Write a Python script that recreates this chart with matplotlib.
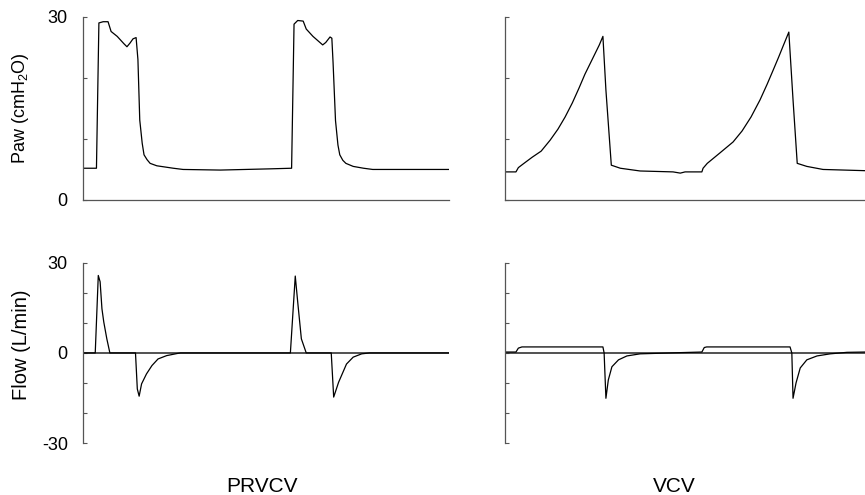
import numpy as np
import matplotlib
matplotlib.use("Agg")
import matplotlib.pyplot as plt

plt.rcParams["font.family"] = ["Liberation Sans", "DejaVu Sans"]
plt.rcParams["mathtext.default"] = "regular"

# --- PRVCV: airway pressure (cmH2O) vs time (s) ---
prvcv_paw_t = [0.00, 0.22, 0.26, 0.33, 0.41, 0.46, 0.56, 0.67, 0.72, 0.77, 0.82, 0.87,
               0.90, 0.93, 0.97, 1.00, 1.05, 1.10, 1.21, 1.48, 1.64, 2.25, 3.07, 3.42,
               3.46, 3.52, 3.61, 3.66, 3.77, 3.93, 3.98, 4.05, 4.08, 4.10, 4.14, 4.18,
               4.21, 4.26, 4.31, 4.43, 4.60, 4.75, 6.00]
prvcv_paw = [5.2, 5.2, 29.0, 29.2, 29.2, 27.6, 26.8, 25.6, 25.1, 25.7, 26.4, 26.6,
             23.0, 13.1, 9.3, 7.4, 6.6, 6.0, 5.6, 5.2, 5.0, 4.9, 5.1, 5.2,
             28.8, 29.4, 29.3, 28.0, 26.8, 25.4, 25.8, 26.7, 26.5, 22.5, 13.0, 9.0,
             7.4, 6.5, 6.0, 5.5, 5.2, 5.0, 5.0]

# --- PRVCV: flow (L/min) ---
prvcv_flow_t = [0.00, 0.20, 0.25, 0.28, 0.31, 0.34, 0.39, 0.44, 0.86, 0.89, 0.92, 0.96,
                1.04, 1.13, 1.23, 1.37, 1.54, 1.60, 3.40, 3.48, 3.52, 3.58, 3.66, 4.07,
                4.11, 4.19, 4.32, 4.43, 4.57, 4.70, 6.00]
prvcv_flow = [0.0, 0.0, 25.8, 23.7, 14.7, 10.3, 4.7, 0.0, 0.0, -12.0, -14.4, -10.3,
              -7.0, -4.2, -2.0, -0.9, -0.2, 0.0, 0.0, 25.6, 17.0, 4.7, 0.0, 0.0,
              -14.7, -9.8, -3.7, -1.4, -0.3, 0.0, 0.0]

# --- VCV: airway pressure ---
vcv_paw_t = [0.00, 0.18, 0.22, 0.30, 0.45, 0.60, 0.75, 0.88, 1.00, 1.12, 1.23, 1.33,
             1.42, 1.50, 1.57, 1.63, 1.68, 1.77, 1.92, 2.25, 2.80, 2.92, 3.00, 3.28,
             3.30, 3.37, 3.58, 3.80, 3.95, 4.10, 4.25, 4.37, 4.47, 4.56, 4.63, 4.73,
             4.80, 4.87, 5.03, 5.30, 6.00]
vcv_paw = [4.6, 4.6, 5.3, 5.9, 7.0, 8.0, 9.8, 11.6, 13.6, 15.9, 18.3, 20.6,
           22.4, 24.0, 25.4, 26.8, 18.0, 5.7, 5.2, 4.75, 4.6, 4.4, 4.6, 4.6,
           5.2, 6.0, 7.7, 9.5, 11.3, 13.6, 16.4, 19.0, 21.3, 23.4, 25.1, 27.5,
           16.4, 6.0, 5.5, 5.0, 4.8]

# --- VCV: flow ---
vcv_flow_t = [0.00, 0.18, 0.22, 0.28, 1.63, 1.65, 1.68, 1.72, 1.78, 1.89, 2.03, 2.25,
              2.92, 3.28, 3.32, 3.36, 4.75, 4.78, 4.80, 4.85, 4.92, 5.03, 5.20, 5.42,
              5.70, 6.00]
vcv_flow = [0.3, 0.3, 1.6, 2.0, 2.0, 0.0, -15.1, -9.0, -4.6, -2.3, -1.0, -0.3,
            0.1, 0.3, 1.8, 2.0, 2.0, 0.0, -15.1, -10.0, -5.0, -2.3, -1.0, -0.3,
            0.2, 0.3]

modes = ["PRVCV", "VCV"]

fig = plt.figure(figsize=(8.65, 4.95), dpi=100)

# posicoes dos eixos (fracao da figura)
lefts = [0.096, 0.584]
widths = [0.423, 0.416]

spine_col = "#555555"


def estilo(ax, show_labels):
    for s in ["top", "right"]:
        ax.spines[s].set_visible(False)
    ax.spines["left"].set_color(spine_col)
    ax.spines["left"].set_linewidth(0.9)
    ax.tick_params(axis="y", direction="in", length=3, width=0.8, color=spine_col,
                   labelsize=13, pad=11, labelleft=show_labels)
    ax.set_xticks([])
    ax.set_xlim(0, 6)


paw_data = [(prvcv_paw_t, prvcv_paw), (vcv_paw_t, vcv_paw)]
flow_data = [(prvcv_flow_t, prvcv_flow), (vcv_flow_t, vcv_flow)]

for i in range(2):
    # pressao
    ax = fig.add_axes([lefts[i], 0.596, widths[i], 0.370])
    ax.plot(paw_data[i][0], paw_data[i][1], color="black", lw=0.9)
    ax.set_ylim(0, 30)
    ax.set_yticks([0, 10, 20, 30])
    ax.set_yticklabels(["0", "", "", "30"])
    estilo(ax, i == 0)
    ax.spines["bottom"].set_color(spine_col)
    ax.spines["bottom"].set_linewidth(0.9)
    if i == 0:
        ax.set_ylabel("Paw (cmH$_2$O)", fontsize=13)
        ax.yaxis.set_label_coords(-0.143, 0.5)

    # fluxo
    ax2 = fig.add_axes([lefts[i], 0.105, widths[i], 0.364])
    ax2.axhline(0, color="#333333", lw=1.2)
    ax2.plot(flow_data[i][0], flow_data[i][1], color="black", lw=0.9)
    ax2.set_ylim(-30, 30)
    ax2.set_yticks([-30, -20, -10, 0, 10, 20, 30])
    ax2.set_yticklabels(["-30", "", "", "0", "", "", "30"])
    estilo(ax2, i == 0)
    ax2.spines["bottom"].set_visible(False)
    if i == 0:
        ax2.set_ylabel("Flow (L/min)", fontsize=14.5)
        ax2.yaxis.set_label_coords(-0.143, 0.545)

fig.text(0.303, 0.018, modes[0], ha="center", va="center", fontsize=15)
fig.text(0.779, 0.018, modes[1], ha="center", va="center", fontsize=15)

fig.savefig("out.png", dpi=100)
